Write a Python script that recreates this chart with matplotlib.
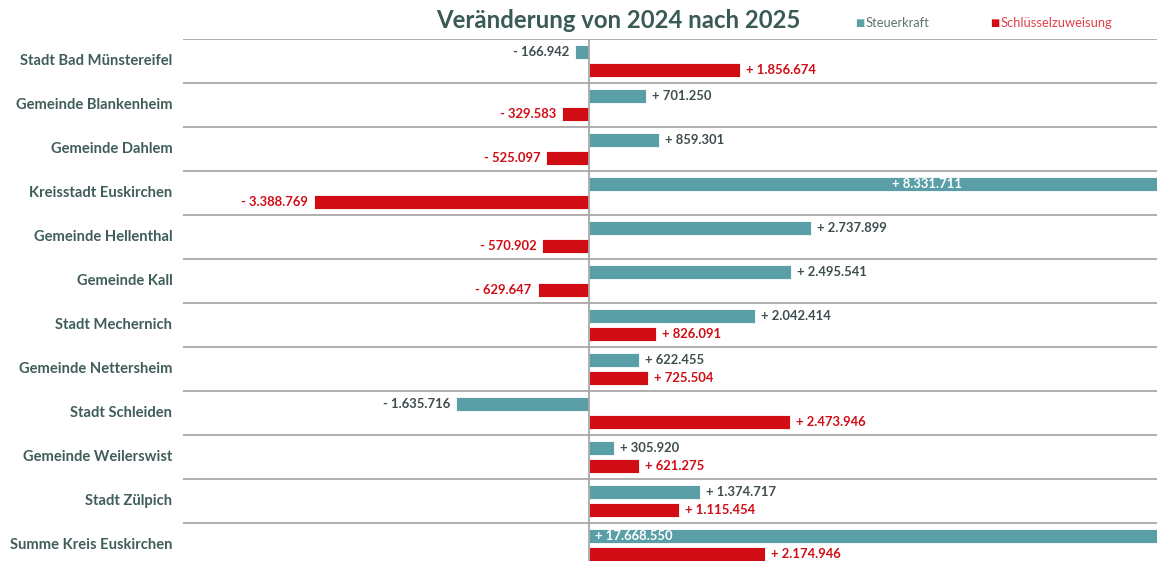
import matplotlib
matplotlib.use("Agg")
import matplotlib.pyplot as plt
from matplotlib import transforms

categories = ["Stadt Bad Münstereifel", "Gemeinde Blankenheim", "Gemeinde Dahlem",
              "Kreisstadt Euskirchen", "Gemeinde Hellenthal", "Gemeinde Kall",
              "Stadt Mechernich", "Gemeinde Nettersheim", "Stadt Schleiden",
              "Gemeinde Weilerswist", "Stadt Zülpich", "Summe Kreis Euskirchen"]
steuerkraft = [-166942, 701250, 859301, 8331711, 2737899, 2495541, 2042414,
               622455, -1635716, 305920, 1374717, 17668550]
schluessel = [1856674, -329583, -525097, -3388769, -570902, -629647, 826091,
              725504, 2473946, 621275, 1115454, 2174946]
series_names = ["Steuerkraft", "Schlüsselzuweisung"]
title = "Veränderung von 2024 nach 2025"

TEAL = "#5A9FA7"
RED = "#D00C14"
LABEL_DARK = "#3E4D4D"
CAT_COLOR = "#3F5D5A"
GRID = "#A8A8A8"
FONT = "Lato"

XMIN, XMAX = -5e6, 7e6

def fmt(v):
    s = f"{abs(v):,}".replace(",", ".")
    return ("+ " if v >= 0 else "- ") + s

W, H = 1157, 561
fig = plt.figure(figsize=(W / 100, H / 100), dpi=100)
top_px, row_px = 39, 44
n = len(categories)
ax_h = n * row_px
ax = fig.add_axes([183 / W, 1 - (top_px + ax_h) / H, 1 - 183 / W, ax_h / H])
ax.set_xlim(XMIN, XMAX)
ax.set_ylim(n - 0.5, -0.5)
for s in ax.spines.values():
    s.set_visible(False)
ax.set_xticks([])
ax.set_yticks([])

ys = list(range(n))
bh = 0.33
off_a, off_b = -0.21, 0.20
ax.barh([y + off_a for y in ys], steuerkraft, height=bh, color=TEAL,
        edgecolor="white", linewidth=0.6, zorder=2)
ax.barh([y + off_b for y in ys], schluessel, height=bh, color=RED,
        edgecolor="white", linewidth=0.6, zorder=2)

# row separators and zero line
for i in range(n):
    ax.axhline(i - 0.5, color=GRID, lw=1.3, zorder=1)
ax.axvline(0, color=GRID, lw=1.3, zorder=3)

pad = transforms.offset_copy
lab_fs = 9.4
for y, v in zip(ys, steuerkraft):
    yy = y + off_a
    if v > XMAX:
        if v / 2 < XMAX:
            ax.text(v / 2, yy, fmt(v), ha="center", va="center", color="white",
                    fontsize=lab_fs, fontweight="bold", family=FONT, zorder=4)
        else:
            ax.text(0, yy, fmt(v), ha="left", va="center", color="white",
                    fontsize=lab_fs, fontweight="bold", family=FONT, zorder=4,
                    transform=pad(ax.transData, fig=fig, x=6, y=0, units="dots"))
    elif v >= 0:
        ax.text(v, yy, fmt(v), ha="left", va="center", color=LABEL_DARK,
                fontsize=lab_fs, fontweight="bold", family=FONT, zorder=4,
                transform=pad(ax.transData, fig=fig, x=6, y=0, units="dots"))
    else:
        ax.text(v, yy, fmt(v), ha="right", va="center", color=LABEL_DARK,
                fontsize=lab_fs, fontweight="bold", family=FONT, zorder=4,
                transform=pad(ax.transData, fig=fig, x=-6, y=0, units="dots"))
for y, v in zip(ys, schluessel):
    yy = y + off_b
    if v >= 0:
        ax.text(v, yy, fmt(v), ha="left", va="center", color=RED,
                fontsize=lab_fs, fontweight="bold", family=FONT, zorder=4,
                transform=pad(ax.transData, fig=fig, x=6, y=0, units="dots"))
    else:
        ax.text(v, yy, fmt(v), ha="right", va="center", color=RED,
                fontsize=lab_fs, fontweight="bold", family=FONT, zorder=4,
                transform=pad(ax.transData, fig=fig, x=-6, y=0, units="dots"))

# category labels
for y, c in zip(ys, categories):
    ax.text(-0.011, y, c, transform=ax.get_yaxis_transform(), ha="right",
            va="center", fontsize=10.6, fontweight="bold", color=CAT_COLOR,
            family=FONT)

# title
fig.text(618 / W, 1 - 21 / H, title, ha="center", va="center", fontsize=17.2,
         fontweight="bold", color="#3A5A56", family=FONT)

# legend
fig.text(860 / W, 1 - 23 / H, "■", ha="center", va="center", fontsize=7,
         color=TEAL, family="DejaVu Sans")
fig.text(866 / W, 1 - 23 / H, series_names[0], ha="left", va="center",
         fontsize=9.3, color="#5F7272", family=FONT)
fig.text(995 / W, 1 - 23 / H, "■", ha="center", va="center", fontsize=7,
         color=RED, family="DejaVu Sans")
fig.text(1001 / W, 1 - 23 / H, series_names[1], ha="left", va="center",
         fontsize=9.3, color="#E0404A", family=FONT)

fig.savefig("out.png", dpi=100, facecolor="white")
